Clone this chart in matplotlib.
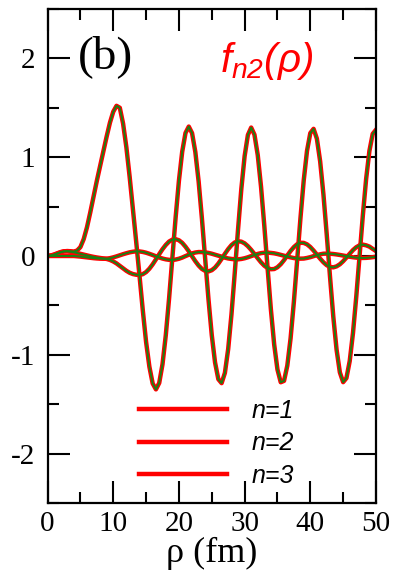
import numpy as np
import matplotlib
matplotlib.use('Agg')
import matplotlib.pyplot as plt
from matplotlib.ticker import MultipleLocator

plt.rcParams['font.family'] = 'Liberation Serif'
plt.rcParams['axes.unicode_minus'] = False
plt.rcParams['mathtext.fontset'] = 'custom'
plt.rcParams['mathtext.it'] = 'Liberation Sans:italic'
plt.rcParams['mathtext.rm'] = 'Liberation Sans:italic'

# radial grid, 0.5 fm steps
rho = np.linspace(0, 50, 101)

# f_12(rho)
f1 = [0.0, 0.004, 0.012, 0.024, 0.037, 0.047, 0.05, 0.048, 0.045, 0.055,
      0.09, 0.17, 0.29, 0.44, 0.60, 0.76, 0.91, 1.06, 1.21, 1.35,
      1.46, 1.52, 1.50, 1.34, 1.10, 0.80, 0.47, 0.14, -0.20, -0.55,
      -0.87, -1.12, -1.29, -1.35, -1.285, -1.096, -0.802, -0.431, -0.02, 0.391,
      0.762, 1.056, 1.245, 1.31, 1.244, 1.052, 0.754, 0.380, -0.032, -0.439,
      -0.801, -1.078, -1.247, -1.287, -1.183, -0.941, -0.591, -0.171, 0.269, 0.678,
      1.010, 1.225, 1.30, 1.228, 1.021, 0.701, 0.305, -0.125, -0.540, -0.895,
      -1.149, -1.278, -1.264, -1.110, -0.833, -0.464, -0.043, 0.382, 0.765, 1.064,
      1.244, 1.287, 1.188, 0.958, 0.623, 0.219, -0.209, -0.613, -0.948, -1.178,
      -1.277, -1.236, -1.064, -0.779, -0.411, 0.0, 0.411, 0.779, 1.064, 1.236,
      1.277]

# f_22(rho)
f2 = [0.0, 0.005, 0.015, 0.028, 0.04, 0.047, 0.047, 0.043, 0.037, 0.03,
      0.022, 0.014, 0.006, -0.002, -0.009, -0.015, -0.02, -0.025, -0.03, -0.04,
      -0.055, -0.075, -0.10, -0.125, -0.15, -0.17, -0.183, -0.19, -0.192, -0.184,
      -0.163, -0.129, -0.085, -0.034, 0.0185, 0.069, 0.112, 0.146, 0.165, 0.170,
      0.159, 0.133, 0.094, 0.048, -0.003, -0.053, -0.097, -0.131, -0.151, -0.156,
      -0.144, -0.117, -0.077, -0.029, 0.022, 0.070, 0.110, 0.137, 0.149, 0.145,
      0.128, 0.099, 0.062, 0.020, -0.023, -0.064, -0.098, -0.122, -0.134, -0.132,
      -0.114, -0.083, -0.042, 0.005, 0.051, 0.090, 0.119, 0.134, 0.1325, 0.118,
      0.091, 0.055, 0.014, -0.027, -0.064, -0.093, -0.111, -0.115, -0.105, -0.084,
      -0.053, -0.016, 0.023, 0.060, 0.089, 0.108, 0.115, 0.108, 0.095, 0.072,
      0.05]

# f_32(rho)
f3 = [0.0, 0.0, 0.0, 0.0, 0.0, 0.0, 0.0, 0.0, 0.0, -0.003,
      -0.006, -0.01, -0.014, -0.018, -0.022, -0.025, -0.027, -0.028, -0.027, -0.022,
      -0.014, -0.004, 0.007, 0.018, 0.028, 0.037, 0.043, 0.047, 0.046, 0.041,
      0.033, 0.022, 0.010, -0.003, -0.015, -0.026, -0.034, -0.039, -0.040, -0.036,
      -0.028, -0.016, -0.001, 0.013, 0.026, 0.035, 0.040, 0.0395, 0.036, 0.031,
      0.023, 0.013, 0.003, -0.007, -0.017, -0.025, -0.030, -0.0335, -0.0337, -0.030,
      -0.023, -0.013, -0.001, 0.0105, 0.021, 0.029, 0.033, 0.034, 0.031, 0.027,
      0.020, 0.0115, 0.0026, -0.006, -0.014, -0.021, -0.025, -0.027, -0.026, -0.020,
      -0.012, -0.0015, 0.009, 0.017, 0.023, 0.024, 0.0228, 0.020, 0.0157, 0.0104,
      0.0045, -0.0017, -0.0075, -0.0127, -0.0166, -0.019, -0.020, -0.019, -0.016, -0.012,
      -0.007]

curves = [f1, f2, f3]
labels = ['n=1', 'n=2', 'n=3']

fig = plt.figure(figsize=(3.93, 5.81), dpi=100)
ax = fig.add_axes([0.121, 0.1343, 0.8357, 0.8502])

# red underlay, green on top
for y, lab in zip(curves, labels):
    ax.plot(rho, y, color='red', lw=3.2, label=lab)
for y in curves:
    ax.plot(rho, y, color='#1a8214', lw=1.4)

ax.set_xlim(0, 50)
ax.set_ylim(-2.5, 2.5)
ax.xaxis.set_major_locator(MultipleLocator(10))
ax.xaxis.set_minor_locator(MultipleLocator(5))
ax.yaxis.set_major_locator(MultipleLocator(1))
ax.yaxis.set_minor_locator(MultipleLocator(0.5))
ax.tick_params(which='both', direction='in', top=True, right=True, width=1.5, labelsize=21)
ax.tick_params(which='major', length=16)
ax.tick_params(which='minor', length=8)
ax.tick_params(axis='x', pad=6)
ax.tick_params(axis='y', pad=9)
for s in ax.spines.values():
    s.set_linewidth(1.6)

ax.set_xlabel('ρ (fm)', fontsize=26, labelpad=0)

ax.text(0.093, 0.88, '(b)', transform=ax.transAxes, fontsize=34, va='baseline')
ax.text(0.525, 0.872, r'$f_{n2}(\rho)$', transform=ax.transAxes, fontsize=29,
        color='red', va='baseline')

ax.legend(loc='lower left', bbox_to_anchor=(0.279, 0.03), frameon=False,
          handlelength=3.5, handletextpad=1.0, labelspacing=0.35,
          borderpad=0, borderaxespad=0,
          prop={'family': 'Liberation Sans', 'style': 'italic', 'size': 18})

fig.savefig('out.png', dpi=100)
